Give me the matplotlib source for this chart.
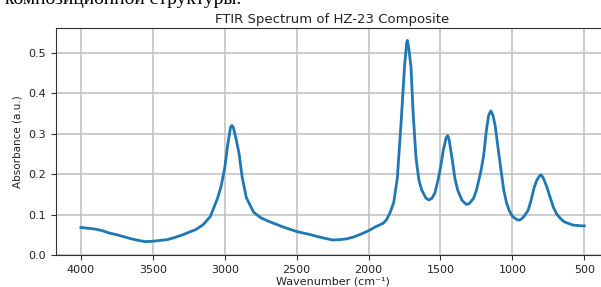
import matplotlib
matplotlib.use("Agg")
import matplotlib.pyplot as plt

# Values (wavenumber cm^-1, absorbance a.u.)
wavenumber = [4000, 3950, 3900, 3850, 3800, 3750, 3700, 3650, 3600, 3550,
              3500, 3450, 3400, 3350, 3300, 3250, 3200, 3150, 3100, 3050,
              3025, 3000, 2980, 2960, 2950, 2940, 2920, 2900, 2880, 2850,
              2800, 2750, 2700, 2650, 2600, 2550, 2500, 2450, 2400, 2350,
              2300, 2250, 2200, 2150, 2100, 2050, 2000, 1950, 1900, 1875,
              1850, 1825, 1800, 1775, 1750, 1735, 1730, 1720, 1705, 1690,
              1670, 1650, 1630, 1600, 1580, 1560, 1540, 1520, 1500, 1480,
              1460, 1450, 1440, 1420, 1400, 1380, 1350, 1320, 1300, 1270,
              1250, 1220, 1200, 1180, 1165, 1150, 1135, 1120, 1100, 1085,
              1060, 1040, 1020, 1000, 980, 960, 940, 920, 890, 870,
              850, 830, 810, 800, 785, 760, 740, 715, 690, 660,
              640, 610, 580, 550, 520, 500]
absorbance = [0.068, 0.066, 0.064, 0.060, 0.054, 0.050, 0.045, 0.040, 0.036, 0.033,
              0.034, 0.036, 0.038, 0.043, 0.049, 0.056, 0.063, 0.075, 0.095, 0.140,
              0.170, 0.215, 0.270, 0.315, 0.320, 0.315, 0.285, 0.250, 0.195, 0.142,
              0.106, 0.092, 0.084, 0.077, 0.070, 0.064, 0.058, 0.054, 0.050, 0.045,
              0.041, 0.037, 0.038, 0.040, 0.045, 0.052, 0.060, 0.070, 0.078, 0.087,
              0.105, 0.130, 0.190, 0.320, 0.465, 0.525, 0.530, 0.510, 0.465, 0.350,
              0.240, 0.185, 0.160, 0.140, 0.136, 0.140, 0.152, 0.180, 0.215, 0.260,
              0.290, 0.295, 0.285, 0.240, 0.190, 0.160, 0.135, 0.125, 0.127, 0.140,
              0.160, 0.205, 0.245, 0.310, 0.345, 0.356, 0.345, 0.320, 0.265, 0.225,
              0.160, 0.128, 0.108, 0.096, 0.090, 0.086, 0.088, 0.095, 0.111, 0.135,
              0.165, 0.185, 0.196, 0.198, 0.190, 0.168, 0.145, 0.118, 0.100, 0.088,
              0.082, 0.078, 0.074, 0.073, 0.072, 0.072]

x_ticks = [4000, 3500, 3000, 2500, 2000, 1500, 1000, 500]
y_ticks = [0.0, 0.1, 0.2, 0.3, 0.4, 0.5]

fig = plt.figure(figsize=(6.01, 2.87), dpi=100)
ax = fig.add_axes([0.0927, 0.1115, 0.9214, 0.7899])

ax.plot(wavenumber, absorbance, color="#1f77b4", lw=2.0)
ax.set_xlim(4175, 325)
ax.set_ylim(0.0, 0.56)
ax.set_xticks(x_ticks)
ax.set_yticks(y_ticks)
ax.set_yticklabels([f"{v:.1f}" for v in y_ticks])
ax.tick_params(labelsize=8, length=3.5, color="#333333", labelcolor="#222222")
ax.grid(True, color="#c4c4c4", lw=1.2)
ax.set_axisbelow(True)
for s in ax.spines.values():
    s.set_color("#333333")

ax.set_title("FTIR Spectrum of HZ-23 Composite", fontsize=9.5, pad=4, color="#222222")
ax.set_xlabel("Wavenumber (cm\u207b\u00b9)", fontsize=8, labelpad=1, color="#222222")
ax.set_ylabel("Absorbance (a.u.)", fontsize=7.5, labelpad=4, color="#222222")

fig.text(0.008, 0.986, "композиционной структуры.", family="Liberation Serif",
         fontsize=14, va="baseline", ha="left", color="black")

fig.savefig("out.png", dpi=100)
